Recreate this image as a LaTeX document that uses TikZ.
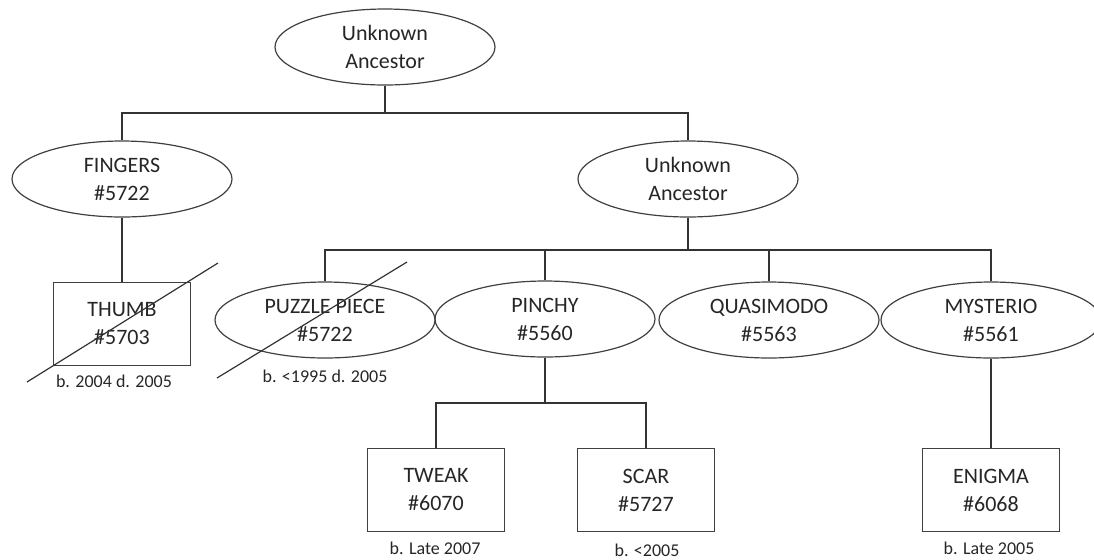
\documentclass[tikz,border=0pt]{standalone}
\usepackage{fontspec}
\setmainfont{Carlito}
\usetikzlibrary{shapes.geometric}

\begin{document}
\begin{tikzpicture}[x=0.5pt,y=-0.5pt,
		member/.style={ellipse,draw=black!75,line width=0.6pt,minimum width=110pt,minimum height=38pt,inner sep=0pt,align=center,text=black!85,font=\fontsize{11}{14}\selectfont},
		kit/.style={rectangle,draw=black!75,line width=0.6pt,minimum width=68.5pt,minimum height=41.5pt,inner sep=0pt,align=center,text=black!85,font=\fontsize{11}{14}\selectfont},
		dates/.style={inner sep=0pt,text=black!85,font=\fontsize{9}{11}\selectfont},
		link/.style={draw=black!80,line width=0.6pt}]
			\useasboundingbox (0,0) rectangle (1094,559);
			\node[member] (top) at (385,47) {Unknown\\Ancestor};
			\node[member] (fingers) at (122,179) {FINGERS\\\#5722};
			\node[member] (unknown) at (688,179) {Unknown\\Ancestor};
			\node[kit] (thumb) at (122,324) {THUMB\\\#5703};
			\node[member] (puzzle) at (325,320) {PUZZLE PIECE\\\#5722};
			\node[member] (pinchy) at (545,319) {PINCHY\\\#5560};
			\node[member] (quasimodo) at (769,320) {QUASIMODO\\\#5563};
			\node[member] (mysterio) at (991,320) {MYSTERIO\\\#5561};
			\node[kit] (tweak) at (436,490) {TWEAK\\\#6070};
			\node[kit] (scar) at (646,490) {SCAR\\\#5727};
			\node[kit] (enigma) at (991,490) {ENIGMA\\\#6068};
			\node[dates] (thumbdate) at (114,381) {b. 2004 d. 2005};
			\node[dates] (puzzledate) at (325,376) {b. <1995 d. 2005};
			\node[dates] (tweakdate) at (435,548) {b. Late 2007};
			\node[dates] (scardate) at (647,550) {b. <2005};
			\node[dates] (enigmadate) at (989,548) {b. Late 2005};
			\coordinate (j0) at (385,113);
			\coordinate (j1) at (688,250);
			\coordinate (j2) at (545,403);
			\draw[link] (top.south) -- (j0);
			\draw[link] (fingers.north) |- (j0) -| (unknown.north);
			\draw[link,line width=0.9pt] (unknown.south) -- (j1);
			\draw[link] (puzzle.north) |- (j1) -| (mysterio.north);
			\draw[link] (pinchy.north) -- (pinchy.north |- j1)
				(quasimodo.north) -- (quasimodo.north |- j1);
			\draw[link,line width=0.9pt] (pinchy.south) -- (j2);
			\draw[link] (tweak.north) |- (j2) -| (scar.north);
			\draw[link] (fingers.south) -- (thumb.north);
			\draw[link] (mysterio.south) -- (enigma.north);
			% crossed out
			\draw[link] (27,382) -- (218,263);
			\draw[link] (217,378) -- (407,262);
		\end{tikzpicture}
\end{document}
